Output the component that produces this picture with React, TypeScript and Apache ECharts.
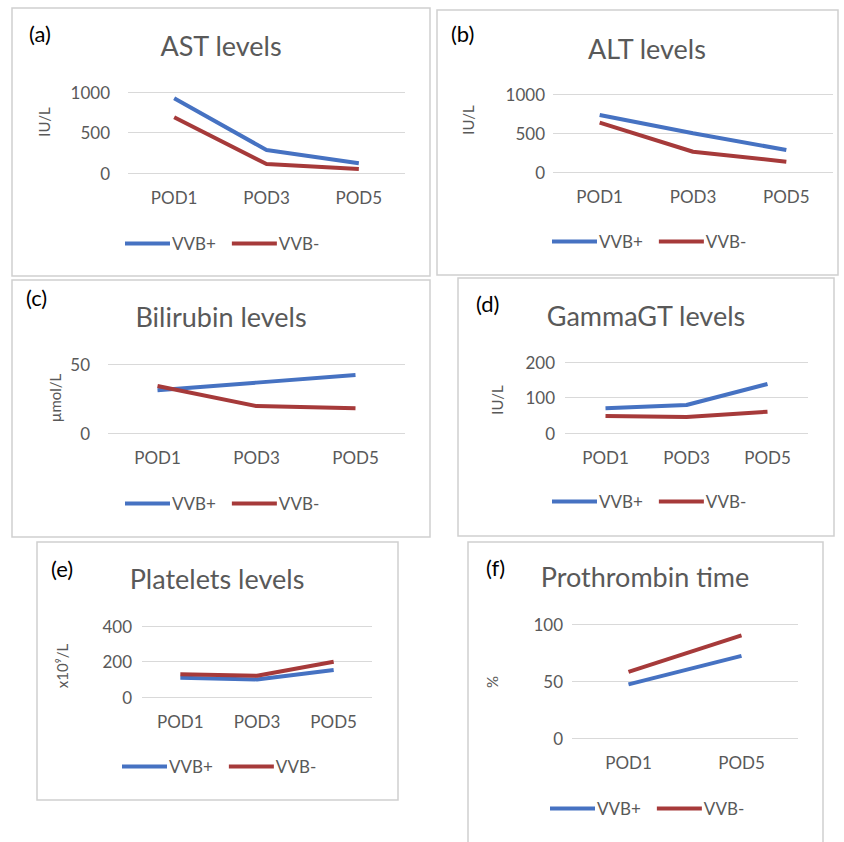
import React, { useEffect, useRef } from "react";
import * as echarts from "echarts";

const categories3 = ["POD1", "POD3", "POD5"];
const categories2 = ["POD1", "POD5"];
const seriesNames = ["VVB+", "VVB-"];

const astPlus = [922, 284, 120];
const astMinus = [688, 111, 49];
const altPlus = [731, 496, 282];
const altMinus = [632, 260, 132];
const biliPlus = [31, 36.5, 42];
const biliMinus = [34, 19.5, 18];
const ggtPlus = [70, 79, 138];
const ggtMinus = [48, 45, 60];
const pltPlus = [109, 99, 152];
const pltMinus = [128, 120, 199];
const ptPlus = [47, 72];
const ptMinus = [58, 90];

const panelLetters = ["(a)", "(b)", "(c)", "(d)", "(e)", "(f)"];
const panelTitles = ["AST levels", "ALT levels", "Bilirubin levels", "GammaGT levels", "Platelets levels", "Prothrombin time"];
const unitNames = ["IU/L", "IU/L", "µmol/L", "IU/L", "x10⁹/L", "%"];
const yMax = [1000, 1000, 50, 200, 400, 100];
const yStep = [500, 500, 50, 100, 200, 50];

const FONT = "Lato, 'Open Sans', sans-serif";
const BLUE = "#4672C2";
const RED = "#A63A3A";
const GREY = "#595959";

// layout (pixels)
const boxes = [
  [12, 8, 418, 268],
  [437, 10, 401, 265],
  [12, 280, 418, 257],
  [458, 278, 376, 258],
  [37, 542, 361, 258],
  [468, 542, 355, 320],
];
const grids = [
  { left: 128, top: 92, width: 277, height: 81 },
  { left: 553, top: 94, width: 280, height: 78 },
  { left: 108, top: 364, width: 297, height: 69 },
  { left: 565, top: 362, width: 243, height: 71 },
  { left: 142, top: 626, width: 230, height: 71 },
  { left: 572, top: 624, width: 226, height: 114 },
];
const yLabelMargin = [18, 8, 18, 10, 10, 9];
const letterPos = [[29, 33], [451, 33], [26, 297], [476, 303], [51, 568], [486, 567]];
const titlePos = [[221, 45], [647, 48], [221, 316], [646, 315], [217, 578], [645, 576]];
const unitPos = [[44, 122], [468, 120], [55, 398], [497, 400], [62, 666], [492, 682]];
const legendPos = [[125, 245], [552, 243], [125, 505], [552, 503], [122, 768], [550, 810]];

const dataSets = [
  [astPlus, astMinus],
  [altPlus, altMinus],
  [biliPlus, biliMinus],
  [ggtPlus, ggtMinus],
  [pltPlus, pltMinus],
  [ptPlus, ptMinus],
];

export default function App() {
  const ref = useRef<HTMLDivElement>(null);
  useEffect(() => {
    if (!ref.current) return;
    const chart = echarts.init(ref.current, null, { renderer: "svg" });

    const graphic: any[] = [];
    boxes.forEach(([x, y, w, h]) => {
      graphic.push({
        type: "rect",
        shape: { x, y, width: w, height: h },
        style: { fill: "#fff", stroke: "#d0d0d0", lineWidth: 1.5 },
        z: -10,
      });
    });
    panelLetters.forEach((t, i) => {
      graphic.push({
        type: "text",
        x: letterPos[i][0],
        y: letterPos[i][1],
        style: { text: t, fill: "#000", font: `22px ${FONT}`, textAlign: "left", textVerticalAlign: "middle" },
      });
    });
    panelTitles.forEach((t, i) => {
      graphic.push({
        type: "text",
        x: titlePos[i][0],
        y: titlePos[i][1],
        style: { text: t, fill: GREY, font: `27px ${FONT}`, textAlign: "center", textVerticalAlign: "middle" },
      });
    });
    unitNames.forEach((t, i) => {
      graphic.push({
        type: "text",
        x: unitPos[i][0],
        y: unitPos[i][1],
        rotation: Math.PI / 2,
        style: { text: t, fill: GREY, font: `15px ${FONT}`, textAlign: "center", textVerticalAlign: "middle" },
      });
    });

    const xAxis: any[] = [];
    const yAxis: any[] = [];
    const series: any[] = [];
    const legend: any[] = [];
    grids.forEach((g, i) => {
      xAxis.push({
        type: "category",
        gridIndex: i,
        data: i === 5 ? categories2 : categories3,
        boundaryGap: true,
        axisLine: { show: false },
        axisTick: { show: false },
        axisLabel: { color: GREY, fontFamily: FONT, fontSize: 17, margin: 16 },
      });
      yAxis.push({
        type: "value",
        gridIndex: i,
        min: 0,
        max: yMax[i],
        interval: yStep[i],
        axisLine: { show: false },
        axisTick: { show: false },
        axisLabel: {
          color: GREY,
          fontFamily: FONT,
          fontSize: 17,
          margin: yLabelMargin[i],
          formatter: (v: number) => String(v),
        },
        splitLine: { show: true, lineStyle: { color: "#d9d9d9", width: 1 } },
      });
      const [plus, minus] = dataSets[i];
      series.push({
        type: "line",
        name: seriesNames[0],
        xAxisIndex: i,
        yAxisIndex: i,
        data: plus,
        showSymbol: false,
        symbol: "none",
        lineStyle: { color: BLUE, width: 4 },
        itemStyle: { color: BLUE },
      });
      series.push({
        type: "line",
        name: seriesNames[1],
        xAxisIndex: i,
        yAxisIndex: i,
        data: minus,
        showSymbol: false,
        symbol: "none",
        lineStyle: { color: RED, width: 4 },
        itemStyle: { color: RED },
      });
      legend.push({
        data: seriesNames.map((n) => ({ name: n, icon: "rect" })),
        left: legendPos[i][0],
        top: legendPos[i][1] - 10,
        orient: "horizontal",
        itemWidth: 45,
        itemHeight: 4,
        itemGap: 16,
        padding: 0,
        selectedMode: false,
        textStyle: { color: GREY, fontFamily: FONT, fontSize: 17, padding: [0, 0, 0, -3] },
      });
    });

    chart.setOption({
      animation: false,
      backgroundColor: "#fff",
      grid: grids.map((g) => ({ ...g, containLabel: false })),
      xAxis,
      yAxis,
      series,
      legend,
      graphic,
    });
    return () => chart.dispose();
  }, []);
  return (
    <div
      ref={ref}
      style={{ position: "absolute", left: 0, top: 0, width: 844, height: 842 }}
    />
  );
}
